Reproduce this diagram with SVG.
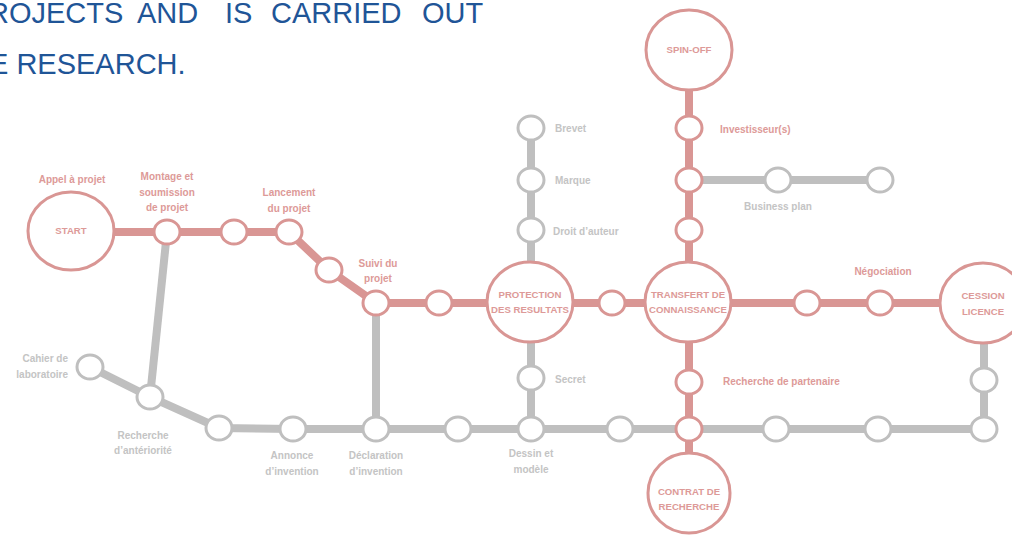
<svg xmlns="http://www.w3.org/2000/svg" width="1012" height="535" viewBox="0 0 1012 535">
<style>
.title{font-family:"Liberation Sans",Arial,sans-serif;font-size:29px;fill:#1f5597}
.lp{font-family:"Liberation Sans",Arial,sans-serif;font-size:10px;font-weight:bold;fill:#dd9a98}
.lg{font-family:"Liberation Sans",Arial,sans-serif;font-size:10px;font-weight:bold;fill:#c4c4c4}
.bt{font-family:"Liberation Sans",Arial,sans-serif;font-size:9.6px;font-weight:bold;fill:#dd9a98}
.pk{fill:none;stroke:#d99694;stroke-width:8}
.gr{fill:none;stroke:#bfbfbf;stroke-width:8}
.np{fill:#fff;stroke:#d99694;stroke-width:3}
.ng{fill:#fff;stroke:#bfbfbf;stroke-width:3}
.big{fill:#fff;stroke:#d99694;stroke-width:3}
</style>
<g id="title">
<text class="title" y="23"><tspan x="-12">ROJECTS</tspan><tspan x="137">AND</tspan><tspan x="225">IS</tspan><tspan x="271">CARRIED</tspan><tspan x="422">OUT</tspan></text>
<text class="title" x="-11" y="74">E RESEARCH.</text>
</g>
<g id="connectors">
<polyline class="gr" points="167,232 150,397"/>
<polyline class="gr" points="90,367 150,397 219,428 293,429 984,429 984,380 984,342"/>
<polyline class="gr" points="376,303 376,429"/>
<polyline class="gr" points="531,128 531,263"/>
<polyline class="gr" points="531,342 531,429"/>
<polyline class="gr" points="689,180 880,180"/>
<polyline class="pk" points="113,232 289,232 329,270 376,303 983,303"/>
<polyline class="pk" points="689,90 689,263"/>
<polyline class="pk" points="689,342 689,453"/>
</g>
<g id="start"><ellipse class="big" cx="71" cy="231" rx="43" ry="39"/><text class="bt" x="71" y="234" text-anchor="middle">START</text><text class="lp" x="72" y="183" text-anchor="middle">Appel à projet</text></g>
<g id="montage"><ellipse class="np" cx="167" cy="232" rx="13" ry="12"/><text class="lp" text-anchor="middle"><tspan x="167" y="180">Montage et</tspan><tspan x="167" y="196">soumission</tspan><tspan x="167" y="211">de projet</tspan></text></g>
<g id="n234"><ellipse class="np" cx="234" cy="232" rx="13" ry="12"/></g>
<g id="lancement"><ellipse class="np" cx="289" cy="232" rx="13" ry="12"/><text class="lp" text-anchor="middle"><tspan x="289" y="196">Lancement</tspan><tspan x="289" y="212">du projet</tspan></text></g>
<g id="n329"><ellipse class="np" cx="329" cy="270" rx="13" ry="12"/></g>
<g id="suivi"><ellipse class="np" cx="376" cy="303" rx="13" ry="12"/><text class="lp" text-anchor="middle"><tspan x="378" y="267">Suivi du</tspan><tspan x="378" y="282">projet</tspan></text></g>
<g id="n439"><ellipse class="np" cx="439" cy="303" rx="13" ry="12"/></g>
<g id="protection"><ellipse class="big" cx="530" cy="302" rx="43" ry="40"/><text class="bt" text-anchor="middle"><tspan x="530" y="298">PROTECTION</tspan><tspan x="530" y="313">DES RESULTATS</tspan></text></g>
<g id="n612"><ellipse class="np" cx="612" cy="303" rx="13" ry="12"/></g>
<g id="transfert"><ellipse class="big" cx="688" cy="302" rx="43" ry="40"/><text class="bt" text-anchor="middle"><tspan x="688" y="298">TRANSFERT DE</tspan><tspan x="688" y="313">CONNAISSANCE</tspan></text></g>
<g id="n807"><ellipse class="np" cx="807" cy="303" rx="13" ry="12"/></g>
<g id="negociation"><ellipse class="np" cx="880" cy="303" rx="13" ry="12"/><text class="lp" x="883" y="275" text-anchor="middle">Négociation</text></g>
<g id="cession"><ellipse class="big" cx="983" cy="303" rx="43" ry="40"/><text class="bt" text-anchor="middle"><tspan x="983" y="299">CESSION</tspan><tspan x="983" y="315">LICENCE</tspan></text></g>
<g id="spinoff"><ellipse class="big" cx="689" cy="50" rx="43" ry="40"/><text class="bt" x="689" y="53" text-anchor="middle">SPIN-OFF</text></g>
<g id="investisseur"><ellipse class="np" cx="689" cy="128" rx="13" ry="12"/><text class="lp" x="720" y="133">Investisseur(s)</text></g>
<g id="n689_180"><ellipse class="np" cx="689" cy="180" rx="13" ry="12"/></g>
<g id="businessplan"><ellipse class="ng" cx="778" cy="180" rx="13" ry="12"/><text class="lg" x="778" y="210" text-anchor="middle">Business plan</text></g>
<g id="n880_180"><ellipse class="ng" cx="880" cy="180" rx="13" ry="12"/></g>
<g id="n689_230"><ellipse class="np" cx="689" cy="230" rx="13" ry="12"/></g>
<g id="partenaire"><ellipse class="np" cx="689" cy="382" rx="13" ry="12"/><text class="lp" x="723" y="385">Recherche de partenaire</text></g>
<g id="n689_429"><ellipse class="np" cx="689" cy="429" rx="13" ry="12"/></g>
<g id="contrat"><ellipse class="big" cx="689" cy="493" rx="41" ry="40"/><text class="bt" text-anchor="middle"><tspan x="689" y="495">CONTRAT DE</tspan><tspan x="689" y="510">RECHERCHE</tspan></text></g>
<g id="brevet"><ellipse class="ng" cx="531" cy="128" rx="13" ry="12"/><text class="lg" x="555" y="132">Brevet</text></g>
<g id="marque"><ellipse class="ng" cx="531" cy="180" rx="13" ry="12"/><text class="lg" x="555" y="184">Marque</text></g>
<g id="droit"><ellipse class="ng" cx="531" cy="230" rx="13" ry="12"/><text class="lg" x="553" y="235">Droit d’auteur</text></g>
<g id="secret"><ellipse class="ng" cx="531" cy="378" rx="13" ry="12"/><text class="lg" x="555" y="383">Secret</text></g>
<g id="cahier"><ellipse class="ng" cx="90" cy="367" rx="13" ry="12"/><text class="lg" text-anchor="end"><tspan x="68" y="362">Cahier de</tspan><tspan x="68" y="378">laboratoire</tspan></text></g>
<g id="recherche"><ellipse class="ng" cx="150" cy="397" rx="13" ry="12"/><text class="lg" text-anchor="middle"><tspan x="143" y="439">Recherche</tspan><tspan x="143" y="454">d’antériorité</tspan></text></g>
<g id="n219"><ellipse class="ng" cx="219" cy="428" rx="13" ry="12"/></g>
<g id="annonce"><ellipse class="ng" cx="293" cy="429" rx="13" ry="12"/><text class="lg" text-anchor="middle"><tspan x="292" y="459">Annonce</tspan><tspan x="292" y="475">d’invention</tspan></text></g>
<g id="declaration"><ellipse class="ng" cx="376" cy="429" rx="13" ry="12"/><text class="lg" text-anchor="middle"><tspan x="376" y="459">Déclaration</tspan><tspan x="376" y="475">d’invention</tspan></text></g>
<g id="n458"><ellipse class="ng" cx="458" cy="429" rx="13" ry="12"/></g>
<g id="dessin"><ellipse class="ng" cx="531" cy="429" rx="13" ry="12"/><text class="lg" text-anchor="middle"><tspan x="531" y="457">Dessin et</tspan><tspan x="531" y="473">modèle</tspan></text></g>
<g id="n620"><ellipse class="ng" cx="620" cy="429" rx="13" ry="12"/></g>
<g id="n776"><ellipse class="ng" cx="776" cy="429" rx="13" ry="12"/></g>
<g id="n878"><ellipse class="ng" cx="878" cy="429" rx="13" ry="12"/></g>
<g id="n984_429"><ellipse class="ng" cx="984" cy="429" rx="13" ry="12"/></g>
<g id="n984_380"><ellipse class="ng" cx="984" cy="380" rx="13" ry="12"/></g>
</svg>
